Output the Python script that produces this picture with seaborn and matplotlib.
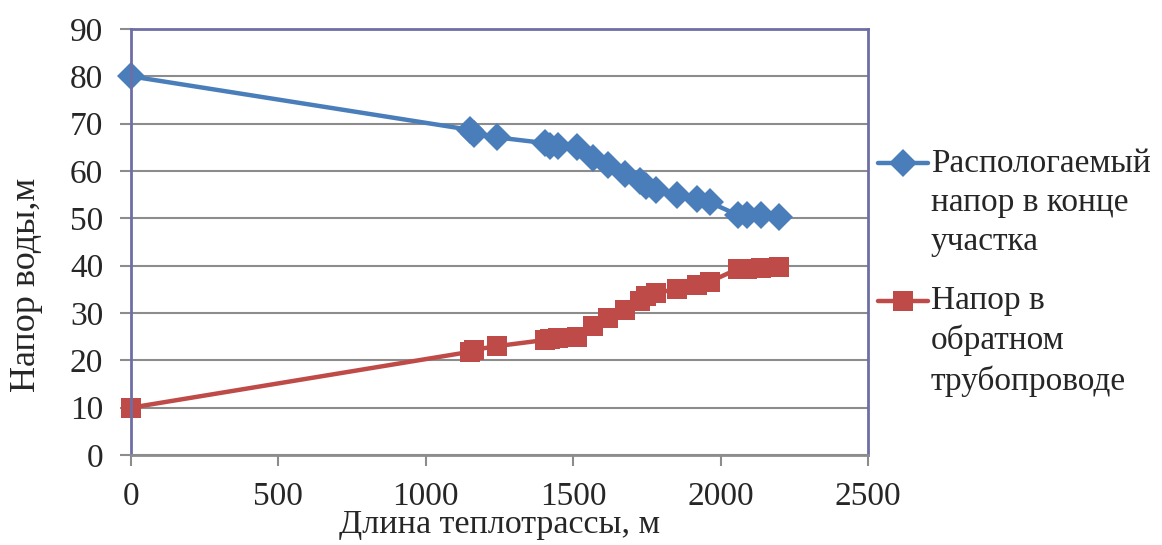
import pandas as pd
import seaborn as sns
import matplotlib.pyplot as plt

# длина теплотрассы, м
length = [0, 1150, 1162, 1241, 1405, 1422, 1450, 1513, 1566, 1618, 1677,
          1725, 1748, 1782, 1852, 1920, 1963, 2058, 2088, 2138, 2197]
# располагаемый напор в конце участка, м
head_supply = [80, 68.7, 67.9, 67.1, 65.9, 65.3, 65.3, 65.0, 62.7, 61.2, 59.3,
               57.8, 56.9, 56.0, 55.0, 54.1, 53.4, 50.7, 50.7, 50.6, 50.2]
# напор в обратном трубопроводе, м
head_return = [10, 21.8, 22.2, 23.0, 24.3, 24.5, 24.7, 25.0, 27.3, 28.9, 30.7,
               32.6, 33.5, 34.2, 35.1, 35.9, 36.6, 39.3, 39.3, 39.5, 39.7]

names = ['Распологаемый\nнапор в конце\nучастка', 'Напор в\nобратном\nтрубопроводе']

sns.set_style('white')
plt.rcParams['font.family'] = ['Liberation Serif', 'DejaVu Serif']

df = pd.DataFrame({
    'x': length + length,
    'y': head_supply + head_return,
    'series': [names[0]] * len(length) + [names[1]] * len(length),
})

fig = plt.figure(figsize=(11.62, 5.45), dpi=100)
ax = fig.add_axes([131 / 1162, 90 / 545, 737 / 1162, 426 / 545])

sns.lineplot(data=df, x='x', y='y', hue='series', style='series',
             palette=['#4a7ebb', '#be4b48'], markers=['D', 's'], dashes=False,
             sort=False, estimator=None, linewidth=3.2, markersize=14,
             markeredgewidth=0, ax=ax)

ax.set_xlim(0, 2500)
ax.set_ylim(0, 90)
ax.set_xticks(range(0, 2501, 500))
ax.set_yticks(range(0, 91, 10))
ax.yaxis.grid(True, color='#8c8c8c', linewidth=1.5)
ax.set_axisbelow(True)
ax.tick_params(labelsize=24, length=8, width=1.5, color='#8c8c8c',
               direction='out', bottom=True, left=True)
ax.tick_params(axis='x', pad=11)
ax.tick_params(axis='y', pad=12)
for side in ['top', 'right', 'left']:
    ax.spines[side].set_color('#6e6ea6')
    ax.spines[side].set_linewidth(2)
ax.spines['bottom'].set_color('#8c8c8c')
ax.spines['bottom'].set_linewidth(2)
for line in ax.lines:
    line.set_clip_on(False)

ax.set_xlabel('Длина теплотрассы, м', fontsize=24.5, labelpad=-2)
ax.set_ylabel('Напор воды,м', fontsize=26)
ax.yaxis.set_label_coords(-0.12, 0.40)

leg = ax.legend(loc='upper left', bbox_to_anchor=(0.995, 0.75), frameon=False,
                fontsize=24, handlelength=1.5, handletextpad=0.1,
                labelspacing=0.85, borderaxespad=0.0)
for t in leg.get_texts():
    t.set_linespacing(1.36)

# Excel ставит маркер легенды у первой строки подписи
fig.canvas.draw()
shift = 28.8
for row in leg.get_children()[0].get_children()[1].get_children()[0].get_children():
    handle_box = row.get_children()[0]
    for art in handle_box.get_children():
        art.set_ydata([y + shift for y in art.get_ydata()])

fig.savefig('out.png', dpi=100)
